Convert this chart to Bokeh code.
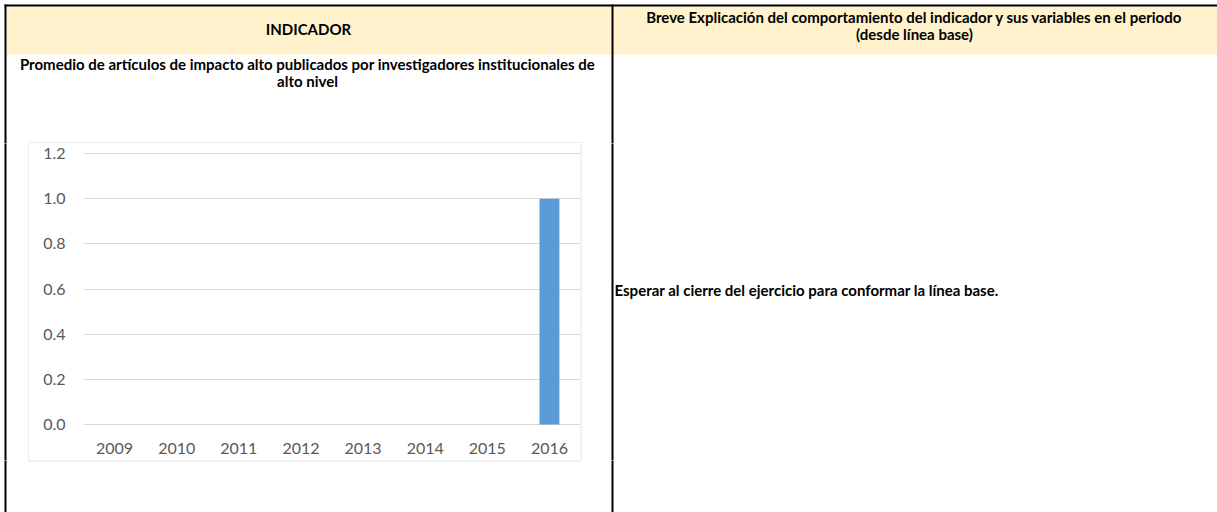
from bokeh.plotting import figure
from bokeh.layouts import column, row
from bokeh.models import FixedTicker, Range1d
from bokeh.core.properties import value
from bokeh.embed import file_html
from bokeh.resources import INLINE

# ---- data ----
years = ["2009", "2010", "2011", "2012", "2013", "2014", "2015", "2016"]
values = [0, 0, 0, 0, 0, 0, 0, 1.0]
y_ticks = [0.0, 0.2, 0.4, 0.6, 0.8, 1.0, 1.2]

header_left = "INDICADOR"
header_right_1 = "Breve Explicación del comportamiento del indicador y sus variables en el periodo"
header_right_2 = "(desde línea base)"
title_1 = "Promedio de artículos de impacto alto publicados por investigadores institucionales de"
title_2 = "alto nivel"
explanation = "Esperar al cierre del ejercicio para conformar la línea base."

# ---- layout (pixels) ----
W, H = 1217, 512
FONT = "Lato"
CREAM = "#FFF2CC"
GRAY = "#D9D9D9"
BLACK = "black"

TOP_H = 143            # rows 0..142
MID_H = 317            # rows 143..459
BOT_H = H - TOP_H - MID_H
L_W = 29               # cols 0..28
C_W = 551              # cols 29..579
R_W = W - L_W - C_W    # cols 580..


def canvas(w, h):
    f = figure(width=w, height=h, x_range=Range1d(0, w), y_range=Range1d(h, 0),
               x_axis_type=None, y_axis_type=None, output_backend="svg",
               toolbar_location=None, min_border=0, frame_align=False)
    f.outline_line_color = None
    f.grid.visible = False
    f.background_fill_color = "white"
    f.border_fill_color = "white"
    return f


def box(f, l, r, t, b, color):
    f.quad(left=[l], right=[r], top=[t], bottom=[b], fill_color=color, line_color=None)


def txt(f, x, y, s, align="center"):
    f.text(x=[x], y=[y], text=[s], text_align=align, text_baseline="middle",
           text_font=value(FONT), text_font_style="bold", text_font_size="15px",
           text_color="black")


# top strip
top = canvas(W, TOP_H)
box(top, 6, W + 2, 6, 54, CREAM)
box(top, 4, W + 2, 4, 6, BLACK)
box(top, 4, 6, 4, TOP_H + 1, BLACK)
box(top, 611, 613, 4, TOP_H + 1, BLACK)
box(top, 28, 581, 142, 143, GRAY)
txt(top, 308, 28.5, header_left)
txt(top, 914, 16.5, header_right_1)
txt(top, 914, 33, header_right_2)
txt(top, 307, 63.5, title_1)
txt(top, 307, 80.5, title_2)

# middle left
ml = canvas(L_W, MID_H)
box(ml, 4, 6, -1, MID_H + 1, BLACK)
box(ml, 28, 29, -1, MID_H + 1, GRAY)

# middle right
mr = canvas(R_W, MID_H)
box(mr, 0, 1, -1, MID_H + 1, GRAY)
box(mr, 611 - 580, 613 - 580, -1, MID_H + 1, BLACK)
txt(mr, 614 - 580, 289 - TOP_H, explanation, align="left")

# bottom strip
bot = canvas(W, BOT_H)
box(bot, 4, 6, -1, BOT_H + 1, BLACK)
box(bot, 611, 613, -1, BOT_H + 1, BLACK)
box(bot, 28, 581, 0, 1, GRAY)

# chart
PX_TOP, PX_ZERO = 153, 424            # pixel rows of 1.2 and 0.0
per_px = 1.2 / (PX_ZERO - PX_TOP)
FR_T, FR_B = 151, 426                 # frame rows
c = figure(width=C_W, height=MID_H, x_range=years,
           y_range=Range1d(-(FR_B - PX_ZERO) * per_px, 1.2 + (PX_TOP - FR_T) * per_px),
           output_backend="svg", toolbar_location=None, frame_align=False,
           min_border_left=83 - L_W, min_border_right=0,
           min_border_top=FR_T - TOP_H, min_border_bottom=TOP_H + MID_H - FR_B)
c.outline_line_color = None
c.background_fill_color = "white"
c.border_fill_color = "white"
c.vbar(x=years, top=values, width=0.32, color="#5B9BD5", line_color=None)

c.yaxis.ticker = FixedTicker(ticks=y_ticks)
c.yaxis.major_label_overrides = {t: f"{t:.1f}" for t in y_ticks}
for ax in (c.xaxis[0], c.yaxis[0]):
    ax.axis_line_color = None
    ax.major_tick_line_color = None
    ax.minor_tick_line_color = None
    ax.major_tick_out = 0
    ax.major_tick_in = 0
    ax.major_label_text_font = FONT
    ax.major_label_text_font_size = "16px"
    ax.major_label_text_color = "#595959"
c.yaxis.major_label_standoff = 18
c.xaxis.major_label_standoff = 16
c.xgrid.grid_line_color = None
c.ygrid.grid_line_color = GRAY
c.ygrid.grid_line_width = 1

layout = column(top, row(ml, c, mr, spacing=0), bot, spacing=0)
open("out.html", "w").write(file_html(layout, INLINE))
